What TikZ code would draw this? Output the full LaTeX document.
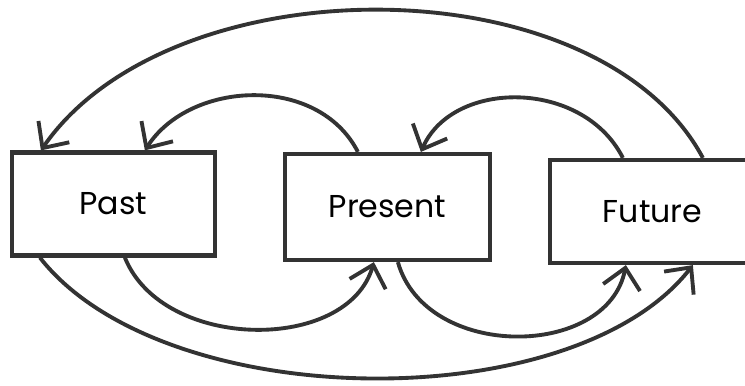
\documentclass[tikz,border=0pt]{standalone}
\usepackage{fontspec}
\setmainfont{Poppins}
\usepackage{tikz}
\usetikzlibrary{arrows.meta, positioning}
\definecolor{ink}{HTML}{333333}

\begin{document}
\begin{tikzpicture}[
  x=0.02cm, y=-0.02cm,
  box/.style={draw=ink, line width=2.4pt, fill=white, minimum height=2.06cm, font=\fontsize{18}{20}\selectfont},
  flow/.style={draw=ink, line width=2.2pt, -{Straight Barb[length=4mm, width=7.5mm, line width=2.2pt]}},
]
\useasboundingbox (0,0) rectangle (745,386);

%% Row: the three boxes
\node[box, minimum width=4.06cm] (past) at (113.5,204) {Past};
\node[box, minimum width=4.1cm, minimum height=2.12cm] (present) at (387.5,207) {Present};
\node[box, minimum width=4.0cm] (future) at (650,211.5) {\hspace{0.1cm}Future};

%% Arcs above
\draw[flow] ([xshift=3.1cm]future.north west)
  .. controls +(-105,-196) and +(130,-188) .. ([xshift=0.62cm]past.north west);
\draw[flow] ([xshift=1.5cm]present.north west)
  .. controls +(-40,-78) and +(45,-70) .. ([xshift=2.7cm]past.north west);
\draw[flow] ([xshift=1.5cm]future.north west)
  .. controls +(-40,-79) and +(32,-73) .. ([xshift=2.76cm]present.north west);

%% Arcs below
\draw[flow] ([xshift=2.3cm]past.south west)
  .. controls +(38,94) and +(-26,91) .. ([xshift=1.82cm]present.south west);
\draw[flow] ([xshift=2.3cm]present.south west)
  .. controls +(28,99) and +(-18,94) .. ([xshift=1.56cm]future.south west);
\draw[flow] ([xshift=0.6cm]past.south west)
  .. controls +(123,157) and +(-120,154) .. ([xshift=2.9cm]future.south west);

\end{tikzpicture}
\end{document}
